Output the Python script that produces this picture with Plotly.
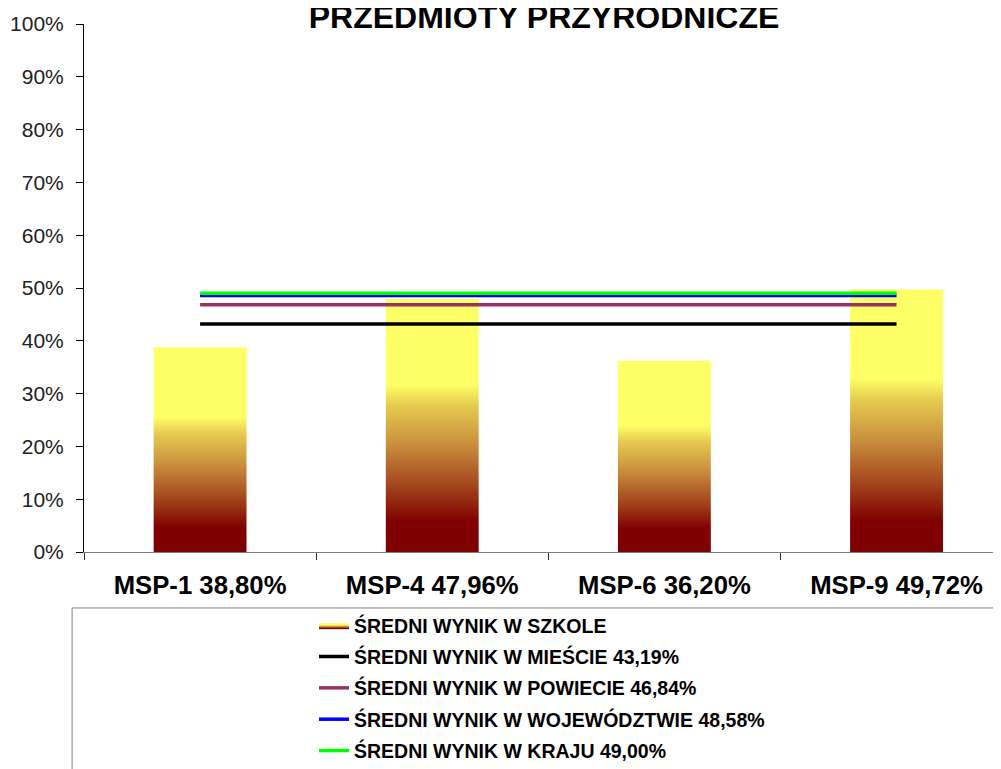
import plotly.graph_objects as go

# dane
schools = ["MSP-1", "MSP-4", "MSP-6", "MSP-9"]
school_scores = [38.80, 47.96, 36.20, 49.72]

ref_names = ["ŚREDNI WYNIK W MIEŚCIE", "ŚREDNI WYNIK W POWIECIE",
             "ŚREDNI WYNIK W WOJEWÓDZTWIE", "ŚREDNI WYNIK W KRAJU"]
ref_values = [43.19, 46.84, 48.58, 49.00]
ref_colors = ["#000000", "#993366", "#0000ff", "#00ff00"]

y_ticks = list(range(0, 101, 10))


def pct(v):
    return f"{v:.2f}%".replace(".", ",")


fire = [[0.0, "#7f0000"], [0.12, "#800000"], [0.25, "#a0401a"],
        [0.42, "#c88c3c"], [0.58, "#e6cc50"], [0.66, "#ffff66"], [1.0, "#ffff66"]]

fig = go.Figure()

half = 0.2
for i, v in enumerate(school_scores):
    fig.add_trace(go.Scatter(
        x=[i - half, i + half, i + half, i - half, i - half],
        y=[0, 0, v, v, 0],
        mode="lines", fill="toself", line=dict(width=0),
        fillgradient=dict(type="vertical", colorscale=fire, start=0, stop=v),
        name="<b>ŚREDNI WYNIK W SZKOLE</b>", legendgroup="szkola",
        showlegend=(i == 0), hoverinfo="skip"))

for name, val, col in zip(ref_names, ref_values, ref_colors):
    fig.add_trace(go.Scatter(
        x=[0, len(schools) - 1], y=[val, val], mode="lines",
        line=dict(color=col, width=3.5), name=f"<b>{name} {pct(val)}</b>",
        legendgroup=name))

fig.add_shape(type="rect", xref="paper", yref="paper",
              x0=-0.013, x1=1.05, y0=-0.106, y1=-0.6,
              line=dict(color="#808080", width=1), fillcolor="rgba(0,0,0,0)")

# strona ma 8px marginesu body, stąd przesunięte marginesy
fig.update_layout(
    width=1001, height=769,
    margin=dict(l=76, r=8, t=16, b=225),
    paper_bgcolor="white", plot_bgcolor="white",
    font=dict(family="Arial, Liberation Sans", color="#000000"),
    title=dict(text="<b>PRZEDMIOTY PRZYRODNICZE</b>", font=dict(size=32),
               x=0.5355, xanchor="center", yref="container", y=0.989, yanchor="middle"),
    showlegend=True,
    legend=dict(x=0.2508, xanchor="left", yref="container", y=0.2224, yanchor="top",
                font=dict(size=19.5, family="Arial, Liberation Sans"),
                traceorder="grouped", tracegroupgap=3,
                bgcolor="rgba(0,0,0,0)", borderwidth=0),
    xaxis=dict(range=[-0.5, 3.45], showgrid=False, zeroline=False,
               automargin=False,
               tickvals=list(range(len(schools))),
               ticktext=[f"<b>{s} {pct(v)}</b>" for s, v in zip(schools, school_scores)],
               tickfont=dict(size=25.7), ticks="", ticklabelstandoff=10,
               showline=True, linecolor="#808080", linewidth=1,
               minor=dict(ticks="outside", tick0=0.5, dtick=1, ticklen=7,
                          tickcolor="#333333", showgrid=False),
               fixedrange=True),
    yaxis=dict(range=[0, 100], tickvals=y_ticks, automargin=False,
               ticktext=[f"{t}%" for t in y_ticks],
               tickfont=dict(size=21, color="#222222"),
               ticks="outside", ticklen=7, tickcolor="#000000",
               ticklabelstandoff=8,
               showgrid=False, zeroline=False,
               showline=True, linecolor="#000000", linewidth=1,
               fixedrange=True),
)

fig.write_html("out.html")
